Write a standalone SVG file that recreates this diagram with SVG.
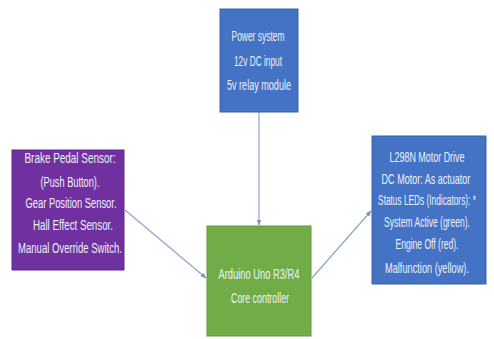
<svg xmlns="http://www.w3.org/2000/svg" width="494" height="339" viewBox="0 0 494 339">
<style>
.box{stroke-width:1}
.t{font-family:"Liberation Sans","Open Sans",Arial,sans-serif;font-size:14px;fill:#eef1f8;text-anchor:middle}
.conn{stroke:#8ea4c8;stroke-width:1.2;fill:none;marker-end:url(#ah)}
</style>
<defs>
<marker id="ah" viewBox="0 0 10 10" refX="9" refY="5" markerWidth="6" markerHeight="6" orient="auto" markerUnits="userSpaceOnUse">
<path d="M0,1 L10,5 L0,9 z" fill="#7d93ba"/>
</marker>
</defs>
<rect width="494" height="339" fill="#ffffff"/>
<g id="connectors">
<line class="conn" x1="259" y1="112" x2="259" y2="225"/>
<line class="conn" x1="125" y1="210" x2="206" y2="278"/>
<line class="conn" x1="312" y1="278" x2="371" y2="211"/>
</g>
<g id="power">
<rect class="box" x="220" y="9" width="78" height="103" fill="#4472c4" stroke="#3a62ab"/>
<text class="t" x="258" y="41" textLength="53" lengthAdjust="spacingAndGlyphs">Power system</text>
<text class="t" x="258" y="66" textLength="48" lengthAdjust="spacingAndGlyphs">12v DC input</text>
<text class="t" x="259" y="90" textLength="64" lengthAdjust="spacingAndGlyphs">5v relay module</text>
</g>
<g id="sensors">
<rect class="box" x="12" y="150" width="112" height="120" fill="#7030a0" stroke="#5f2889"/>
<text class="t" x="70" y="163" textLength="91" lengthAdjust="spacingAndGlyphs">Brake Pedal Sensor:</text>
<text class="t" x="70" y="187" textLength="59" lengthAdjust="spacingAndGlyphs">(Push Button).</text>
<text class="t" x="71" y="208" textLength="91" lengthAdjust="spacingAndGlyphs">Gear Position Sensor.</text>
<text class="t" x="73" y="230" textLength="80" lengthAdjust="spacingAndGlyphs">Hall Effect Sensor.</text>
<text class="t" x="70" y="253" textLength="104" lengthAdjust="spacingAndGlyphs">Manual Override Switch.</text>
</g>
<g id="arduino">
<rect class="box" x="207" y="226" width="104" height="110" fill="#70ad47" stroke="#62983e"/>
<text class="t" x="259" y="279" textLength="81" lengthAdjust="spacingAndGlyphs">Arduino Uno R3/R4</text>
<text class="t" x="260" y="303" textLength="58" lengthAdjust="spacingAndGlyphs">Core controller</text>
</g>
<g id="outputs">
<rect class="box" x="372" y="136" width="114" height="148" fill="#4472c4" stroke="#3a62ab"/>
<g transform="translate(427,0) scale(0.6,1)">
<text class="t" x="0" y="162" textLength="125" lengthAdjust="spacingAndGlyphs">L298N Motor Drive</text>
<text class="t" x="-1.7" y="184" textLength="148" lengthAdjust="spacingAndGlyphs">DC Motor: As actuator</text>
<text class="t" x="0" y="205" textLength="163" lengthAdjust="spacingAndGlyphs">Status LEDs (Indicators): *</text>
<text class="t" x="0" y="227" textLength="143" lengthAdjust="spacingAndGlyphs">System Active (green).</text>
<text class="t" x="0" y="249" textLength="105" lengthAdjust="spacingAndGlyphs">Engine Off (red).</text>
<text class="t" x="0" y="273" textLength="140" lengthAdjust="spacingAndGlyphs">Malfunction (yellow).</text>
</g>
</g>
</svg>
